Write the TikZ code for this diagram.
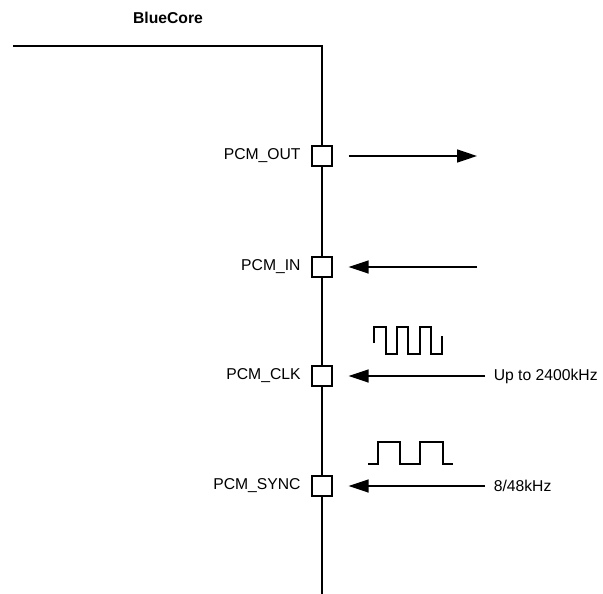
\documentclass[tikz,border=0pt]{standalone}
\usepackage{fontspec}
\setmainfont{Liberation Sans}
\usetikzlibrary{arrows.meta}
\usetikzlibrary{positioning}

\begin{document}
\begin{tikzpicture}[x=1pt, y=-1pt, line width=1.6pt, >={Triangle[length=20pt,width=13pt]},
    port/.style={draw, fill=white, line width=1.3pt, minimum size=20pt, inner sep=0pt},
    lbl/.style={inner sep=0pt, font=\fontsize{15.7}{18}\selectfont},
    wave/.style={line width=1.5pt}]
        \useasboundingbox (0,0) rectangle (603,594);

        % chip outline
        \draw[line width=2pt] (13,46) -- (322,46) -- (322,594);
        \node[lbl, font=\fontsize{15.7}{18}\selectfont\bfseries] (core) at (168,18) {BlueCore};

        \node[port] (out) at (322,156) {};
        \node[port] (in) at (322,267) {};
        \node[port] (clk) at (322,376) {};
        \node[port] (sync) at (322,486) {};

        \node[lbl] (outlbl) [left=10pt of out] {PCM\_OUT};
        \node[lbl] (inlbl) [left=10pt of in] {PCM\_IN};
        \node[lbl] (clklbl) [left=10pt of clk] {PCM\_CLK};
        \node[lbl] (synclbl) [left=10pt of sync] {PCM\_SYNC};

        \node[lbl, anchor=west] (clkrate) at (493,376) {Up to 2400kHz};
        \node[lbl, anchor=west] (syncrate) at (493,486) {8/48kHz};
        \coordinate (outend) at (477,156);
        \coordinate (inend) at (477,267);

        \draw[->, shorten <=16pt] (out) -- (outend);
        \draw[->, shorten >=16pt] (inend) -- (in);
        \draw[->, shorten <=8pt, shorten >=16pt] (clkrate) -- (clk);
        \draw[->, shorten <=8pt, shorten >=16pt] (syncrate) -- (sync);

        % waveforms
        \draw[wave] (374,343) -- (374,327) -- (386,327) -- (386,354) -- (397,354) -- (397,327)
              -- (408,327) -- (408,354) -- (420,354) -- (420,327) -- (431,327) -- (431,354)
              -- (442,354) -- (442,336);
        \draw[wave] (368,464) -- (378,464) -- (378,442) -- (400,442) -- (400,464) -- (420,464)
              -- (420,442) -- (443,442) -- (443,464) -- (453,464);
    \end{tikzpicture}
\end{document}
